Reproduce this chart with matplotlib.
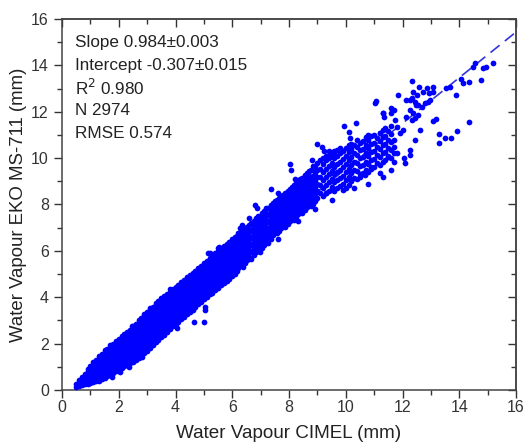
import matplotlib
matplotlib.use("Agg")
import matplotlib.pyplot as plt
from matplotlib.ticker import MultipleLocator

plt.rcParams['font.family'] = ['Liberation Sans', 'DejaVu Sans']

# ---- data (CIMEL x, EKO y), grouped by column of the dense band ----
band_x = [0.5, 0.6, 0.7, 0.8, 0.9, 1.0, 1.1, 1.2, 1.3, 1.4, 1.5, 1.6, 1.7, 1.8, 1.9,
          2.0, 2.1, 2.2, 2.3, 2.4, 2.5, 2.6, 2.7, 2.8, 2.9, 3.0, 3.1, 3.2, 3.3, 3.4,
          3.5, 3.6, 3.7, 3.8, 3.9, 4.0, 4.1, 4.2, 4.3, 4.4, 4.5, 4.6, 4.7, 4.8, 4.9,
          5.0, 5.1, 5.2, 5.3, 5.4, 5.5, 5.6, 5.7, 5.8, 5.9, 6.0, 6.08]
band_y = [
    [0.15, 0.24],
    [0.18, 0.32, 0.42],
    [0.2, 0.38, 0.57],
    [0.25, 0.43, 0.61, 0.7],
    [0.27, 0.45, 0.63, 0.81, 0.9],
    [0.3, 0.48, 0.66, 0.84, 1.02],
    [0.33, 0.51, 0.69, 0.87, 1.05, 1.2],
    [0.38, 0.56, 0.74, 0.92, 1.1, 1.3],
    [0.4, 0.58, 0.76, 0.94, 1.12, 1.3, 1.45],
    [0.47, 0.65, 0.83, 1.01, 1.19, 1.37, 1.55],
    [0.5, 0.68, 0.86, 1.04, 1.22, 1.4, 1.58, 1.72],
    [0.6, 0.78, 0.96, 1.14, 1.32, 1.5, 1.68, 1.78],
    [0.65, 0.83, 1.01, 1.19, 1.37, 1.55, 1.73, 1.92],
    [0.75, 0.93, 1.11, 1.29, 1.47, 1.65, 1.83, 1.98],
    [0.8, 0.98, 1.16, 1.34, 1.52, 1.7, 1.88, 2.04, 2.12],
    [0.9, 1.08, 1.26, 1.44, 1.62, 1.8, 1.98, 2.2],
    [0.95, 1.13, 1.31, 1.49, 1.67, 1.85, 2.03, 2.21, 2.32],
    [1.03, 1.21, 1.39, 1.57, 1.75, 1.93, 2.11, 2.29, 2.4],
    [1.07, 1.25, 1.43, 1.61, 1.79, 1.97, 2.15, 2.33, 2.5],
    [1.15, 1.33, 1.51, 1.69, 1.87, 2.05, 2.23, 2.41, 2.59],
    [1.2, 1.38, 1.56, 1.74, 1.92, 2.1, 2.28, 2.46, 2.64, 2.77],
    [1.3, 1.48, 1.66, 1.84, 2.02, 2.2, 2.38, 2.56, 2.74, 2.86],
    [1.38, 1.56, 1.74, 1.92, 2.1, 2.28, 2.46, 2.64, 2.82, 3.0],
    [1.5, 1.68, 1.86, 2.04, 2.22, 2.4, 2.58, 2.76, 2.94, 3.12],
    [1.6, 1.78, 1.96, 2.14, 2.32, 2.5, 2.68, 2.86, 3.04, 3.2, 3.28],
    [1.7, 1.88, 2.06, 2.24, 2.42, 2.6, 2.78, 2.96, 3.14, 3.3, 3.38],
    [1.82, 2.0, 2.18, 2.36, 2.54, 2.72, 2.9, 3.08, 3.26, 3.44, 3.52],
    [1.92, 2.1, 2.28, 2.46, 2.64, 2.82, 3.0, 3.18, 3.36, 3.54, 3.6],
    [2.05, 2.23, 2.41, 2.59, 2.77, 2.95, 3.13, 3.31, 3.49, 3.67, 3.74],
    [2.14, 2.32, 2.5, 2.68, 2.86, 3.04, 3.22, 3.4, 3.58, 3.76, 3.82],
    [2.27, 2.45, 2.63, 2.81, 2.99, 3.17, 3.35, 3.53, 3.71, 3.89, 3.96],
    [2.38, 2.56, 2.74, 2.92, 3.1, 3.28, 3.46, 3.64, 3.82, 3.98, 4.04],
    [2.5, 2.68, 2.86, 3.04, 3.22, 3.4, 3.58, 3.76, 3.94, 4.1, 4.16],
    [2.62, 2.8, 2.98, 3.16, 3.34, 3.52, 3.7, 3.88, 4.06, 4.24],
    [2.75, 2.93, 3.11, 3.29, 3.47, 3.65, 3.83, 4.01, 4.19, 4.34],
    [2.86, 3.04, 3.22, 3.4, 3.58, 3.76, 3.94, 4.12, 4.3, 4.45],
    [2.95, 3.13, 3.31, 3.49, 3.67, 3.85, 4.03, 4.21, 4.39, 4.54],
    [3.07, 3.25, 3.43, 3.61, 3.79, 3.97, 4.15, 4.33, 4.51, 4.66],
    [3.15, 3.33, 3.51, 3.69, 3.87, 4.05, 4.23, 4.41, 4.59, 4.74],
    [3.26, 3.44, 3.62, 3.8, 3.98, 4.16, 4.34, 4.52, 4.7, 4.86],
    [3.35, 3.53, 3.71, 3.89, 4.07, 4.25, 4.43, 4.61, 4.79, 4.94],
    [3.47, 3.65, 3.83, 4.01, 4.19, 4.37, 4.55, 4.73, 4.91, 5.06],
    [3.56, 3.74, 3.92, 4.1, 4.28, 4.46, 4.64, 4.82, 5.0, 5.14],
    [3.69, 3.87, 4.05, 4.23, 4.41, 4.59, 4.77, 4.95, 5.13, 5.26],
    [3.8, 3.98, 4.16, 4.34, 4.52, 4.7, 4.88, 5.06, 5.24, 5.34],
    [3.92, 4.1, 4.28, 4.46, 4.64, 4.82, 5.0, 5.18, 5.36, 5.46],
    [4.0, 4.18, 4.36, 4.54, 4.72, 4.9, 5.08, 5.26, 5.44, 5.55],
    [4.12, 4.3, 4.48, 4.66, 4.84, 5.02, 5.2, 5.38, 5.56, 5.68],
    [4.2, 4.38, 4.56, 4.74, 4.92, 5.1, 5.28, 5.46, 5.64, 5.76],
    [4.33, 4.51, 4.69, 4.87, 5.05, 5.23, 5.41, 5.59, 5.77, 5.9],
    [4.4, 4.58, 4.76, 4.94, 5.12, 5.3, 5.48, 5.66, 5.84, 5.98],
    [4.53, 4.71, 4.89, 5.07, 5.25, 5.43, 5.61, 5.79, 5.97, 6.1],
    [4.6, 4.78, 4.96, 5.14, 5.32, 5.5, 5.68, 5.86, 6.04, 6.22],
    [4.72, 4.9, 5.08, 5.26, 5.44, 5.62, 5.8, 5.98, 6.16, 6.3],
    [4.8, 4.98, 5.16, 5.34, 5.52, 5.7, 5.88, 6.06, 6.24, 6.4],
    [4.92, 5.1, 5.28, 5.46, 5.64, 5.82, 6.0, 6.18, 6.36, 6.5],
    [5.0, 5.2, 5.4, 5.6, 5.8, 6.0, 6.2, 6.4, 6.58],
]

upper_x = [6.15, 6.3, 6.45, 6.6, 6.75, 6.9, 7.05, 7.2, 7.35, 7.5, 7.65, 7.8, 7.95,
           8.1, 8.25, 8.4, 8.55, 8.7, 8.85, 9.0, 9.2, 9.4, 9.6, 9.8, 10.0, 10.2,
           10.4, 10.6, 10.8, 11.0, 11.2, 11.4, 11.6]
upper_y = [
    [5.12, 5.42, 5.72, 6.02, 6.32, 6.62],
    [5.43, 5.73, 6.03, 6.33, 6.63, 6.83],
    [5.47, 5.77, 6.07, 6.37, 6.67, 6.97],
    [5.75, 6.05, 6.35, 6.65, 6.95, 7.12],
    [5.82, 6.12, 6.42, 6.72, 7.02, 7.3],
    [6.1, 6.4, 6.7, 7.0, 7.3, 7.5],
    [6.12, 6.42, 6.72, 7.02, 7.32, 7.62],
    [6.45, 6.75, 7.05, 7.35, 7.65, 7.83],
    [6.52, 6.82, 7.12, 7.42, 7.72, 7.98],
    [6.83, 7.13, 7.43, 7.73, 8.03, 8.13],
    [6.87, 7.17, 7.47, 7.77, 8.07, 8.28],
    [7.15, 7.45, 7.75, 8.05, 8.35, 8.43],
    [7.17, 7.47, 7.77, 8.07, 8.37, 8.58],
    [7.45, 7.75, 8.05, 8.35, 8.65, 8.76],
    [7.47, 7.77, 8.07, 8.37, 8.67, 8.93],
    [7.75, 8.05, 8.35, 8.65, 8.95, 9.08],
    [7.77, 8.07, 8.37, 8.67, 8.97, 9.27],
    [8.05, 8.35, 8.65, 8.95, 9.25, 9.45],
    [8.04, 8.34, 8.64, 8.94, 9.24, 9.54, 9.64],
    [8.3, 8.6, 8.9, 9.2, 9.5, 9.8],
    [8.35, 8.7, 9.05, 9.4, 9.75, 10.0],
    [8.6, 8.95, 9.3, 9.65, 10.0, 10.15],
    [8.6, 8.95, 9.3, 9.65, 10.0, 10.28],
    [8.8, 9.15, 9.5, 9.85, 10.2, 10.4],
    [8.7, 9.05, 9.4, 9.75, 10.1, 10.45],
    [9.0, 9.35, 9.7, 10.05, 10.4, 10.62],
    [9.1, 9.45, 9.8, 10.15, 10.5, 10.78],
    [9.35, 9.7, 10.05, 10.4, 10.75],
    [9.4, 9.75, 10.1, 10.45, 10.8, 11.0],
    [9.6, 9.95, 10.3, 10.65, 11.0],
    [9.7, 10.05, 10.4, 10.75, 11.1],
    [9.9, 10.25, 10.6, 10.95, 11.3],
    [10.0, 10.35, 10.7, 11.05, 11.4],
]

fill_x = [6.22, 6.37, 6.52, 6.67, 6.82, 6.97, 7.12, 7.27, 7.42, 7.57, 7.72, 7.87,
          8.02, 8.17, 8.32, 8.47, 8.62, 8.77, 8.92, 9.1, 9.3, 9.5, 9.7, 9.9, 10.1,
          10.3, 10.5, 10.7, 10.9, 11.1, 11.3, 11.5, 11.7]
fill_y = [
    [5.27, 5.57, 5.87, 6.17, 6.47, 6.75],
    [5.3, 5.6, 5.9, 6.2, 6.5, 6.8],
    [5.6, 5.9, 6.2, 6.5, 6.8, 7.05],
    [5.67, 5.97, 6.27, 6.57, 6.87, 7.2],
    [5.95, 6.25, 6.55, 6.85, 7.15, 7.4],
    [5.97, 6.27, 6.57, 6.87, 7.17, 7.47],
    [6.27, 6.57, 6.87, 7.17, 7.47, 7.72],
    [6.35, 6.65, 6.95, 7.25, 7.55, 7.85],
    [6.67, 6.97, 7.27, 7.57, 7.87, 8.05],
    [6.75, 7.05, 7.35, 7.65, 7.95, 8.2],
    [7.0, 7.3, 7.6, 7.9, 8.2, 8.38],
    [7.05, 7.35, 7.65, 7.95, 8.25, 8.5],
    [7.3, 7.6, 7.9, 8.2, 8.5, 8.68],
    [7.35, 7.65, 7.95, 8.25, 8.55, 8.85],
    [7.6, 7.9, 8.2, 8.5, 8.8, 9.0],
    [7.65, 7.95, 8.25, 8.55, 8.85, 9.15],
    [7.9, 8.2, 8.5, 8.8, 9.1, 9.35],
    [7.95, 8.25, 8.55, 8.85, 9.15, 9.5],
    [8.15, 8.45, 8.75, 9.05, 9.35, 9.65],
    [8.5, 8.85, 9.2, 9.55, 9.9],
    [8.5, 8.85, 9.2, 9.55, 9.9, 10.1],
    [8.75, 9.1, 9.45, 9.8, 10.15],
    [8.7, 9.05, 9.4, 9.75, 10.1, 10.35],
    [8.9, 9.25, 9.6, 9.95, 10.3],
    [8.85, 9.2, 9.55, 9.9, 10.25, 10.55],
    [9.15, 9.5, 9.85, 10.2, 10.55],
    [9.3, 9.65, 10.0, 10.35, 10.65],
    [9.5, 9.85, 10.2, 10.55, 10.9],
    [9.55, 9.9, 10.25, 10.6, 10.95],
    [9.8, 10.15, 10.5, 10.85],
    [9.85, 10.2, 10.55, 10.9, 11.2],
    [10.1, 10.45, 10.8, 11.15],
    [10.2, 10.5, 10.8],
]

scatter_x = [15.2, 14.96, 14.85, 14.55, 14.49, 14.35, 14.76, 14.06, 14.12, 13.88, 14.34,
             13.93, 13.7, 13.51, 13.27, 13.3, 13.18, 13.06, 13.52, 13.67, 13.08, 13.06,
             12.85, 12.92, 12.73, 12.33, 12.59, 12.38, 12.5, 12.12, 11.85, 12.32, 12.44,
             12.56, 12.67, 12.79, 12.91, 12.97, 12.26, 12.38, 12.14, 12.32, 12.44, 12.56,
             12.61, 12.44, 12.26, 12.03, 11.91, 11.79, 11.7, 11.59, 11.3, 11.35, 11.04,
             10.35, 9.95, 10.12, 10.14, 9.0, 9.15, 9.25, 9.8, 9.6, 12.05, 11.7, 12.1,
             12.28, 11.22, 11.3, 11.6, 10.78, 10.68, 7.35, 6.8, 6.86, 8.02, 8.08, 11.05,
             11.6, 11.72, 11.3, 12.28, 12.48, 11.2, 11.3, 5.51, 5.16, 5.86, 6.27, 6.35,
             5.52, 5.88, 5.23, 2.47, 3.82, 4.47, 2.06, 4.64, 4.99, 5.03, 5.05, 4.05,
             2.82, 2.35, 1.76, 9.6, 8.9, 9.3, 10.5, 10.9, 11.5, 11.8, 7.7, 8.6, 9.9,
             7.6, 8.3, 8.9, 9.5, 10.3, 6.6, 7.6, 8.2, 8.8, 9.4]
scatter_y = [14.09, 13.94, 13.9, 14.12, 13.94, 13.3, 13.37, 13.4, 13.23, 12.72, 11.57,
             11.17, 10.85, 10.85, 10.67, 11.04, 11.67, 11.61, 13.01, 13.08, 13.08, 12.86,
             13.01, 12.82, 12.86, 13.33, 13.08, 12.86, 12.72, 12.51, 12.72, 12.58, 12.44,
             12.29, 12.22, 12.36, 12.44, 12.51, 12.08, 11.93, 11.79, 11.64, 11.72, 11.86,
             11.21, 10.78, 10.35, 11.21, 11.07, 11.36, 12.08, 12.15, 11.96, 11.79, 12.38,
             11.5, 11.39, 11.14, 10.85, 10.61, 10.49, 10.31, 10.42, 10.32, 9.99, 9.85, 9.78,
             10.14, 9.34, 9.2, 9.49, 8.88, 9.27, 8.65, 7.98, 7.84, 9.75, 9.49, 12.46,
             11.93, 11.64, 11.93, 12.51, 12.29, 11.07, 10.93, 6.11, 5.92, 5.97, 6.97, 7.1,
             6.15, 6.04, 5.89, 2.76, 4.34, 4.89, 0.79, 2.95, 2.95, 3.45, 3.57, 2.66,
             1.44, 1.0, 0.58, 9.63, 8.2, 8.48, 9.2, 9.63, 10.06, 10.2, 7.1, 7.95, 8.62,
             6.5, 7.3, 7.8, 8.2, 8.7, 7.4, 8.5, 9.1, 9.9, 10.3]

slope, intercept = 0.984, -0.307
fit_x = [0.5, 16.0]
stats_lines = ["Slope 0.984\u00b10.003", "Intercept -0.307\u00b10.015",
               "R$^2$ 0.980", "N 2974", "RMSE 0.574"]

# ---- flatten columns ----
xs, ys = [], []
for cols_x, cols_y in ((band_x, band_y), (upper_x, upper_y), (fill_x, fill_y)):
    for cx, col in zip(cols_x, cols_y):
        for v in col:
            xs.append(cx); ys.append(v)
xs += scatter_x
ys += scatter_y

fig = plt.figure(figsize=(5.31, 4.48), dpi=100)
ax = fig.add_axes([62/531, 58/448, 454/531, 371/448])

ax.scatter(xs, ys, s=17, color='#0000ff', linewidths=0, zorder=3)
ax.plot(fit_x, [slope * v + intercept for v in fit_x], color='#3333dd',
        lw=1.2, dashes=(7, 4), zorder=2)

ax.set_xlim(0, 16)
ax.set_ylim(0, 16)
ax.xaxis.set_major_locator(MultipleLocator(2))
ax.xaxis.set_minor_locator(MultipleLocator(1))
ax.yaxis.set_major_locator(MultipleLocator(2))
ax.yaxis.set_minor_locator(MultipleLocator(1))
ax.tick_params(which='both', direction='out', colors='#333333', labelsize=11.5,
               labelcolor='#333333', width=1.0)
ax.tick_params(which='major', length=6)
ax.tick_params(which='minor', length=3.5)
ax.tick_params(axis='x', pad=1.5)
for sp in ax.spines.values():
    sp.set_color('#444444'); sp.set_linewidth(1.1)

# mirrored inward ticks on top and right
top = ax.secondary_xaxis('top')
top.xaxis.set_major_locator(MultipleLocator(2))
top.xaxis.set_minor_locator(MultipleLocator(1))
top.tick_params(which='both', direction='in', labeltop=False, colors='#333333', width=1.0)
top.tick_params(which='major', length=6)
top.tick_params(which='minor', length=3.5)
top.spines['top'].set_color('#444444'); top.spines['top'].set_linewidth(1.1)
right = ax.secondary_yaxis('right')
right.yaxis.set_major_locator(MultipleLocator(2))
right.yaxis.set_minor_locator(MultipleLocator(1))
right.tick_params(which='both', direction='in', labelright=False, colors='#333333', width=1.0)
right.tick_params(which='major', length=6)
right.tick_params(which='minor', length=3.5)
right.spines['right'].set_color('#444444'); right.spines['right'].set_linewidth(1.1)

ax.set_xlabel("Water Vapour CIMEL (mm)", fontsize=13.6, color='#222222', labelpad=7)
ax.set_ylabel("Water Vapour EKO MS-711 (mm)", fontsize=13.4, color='#222222', labelpad=3)

for i, line in enumerate(stats_lines):
    ax.text(0.028, 0.937 - i * 0.0615, line, transform=ax.transAxes, fontsize=12.3,
            color='#222222', va='center', ha='left')

fig.savefig("out.png", dpi=100)
